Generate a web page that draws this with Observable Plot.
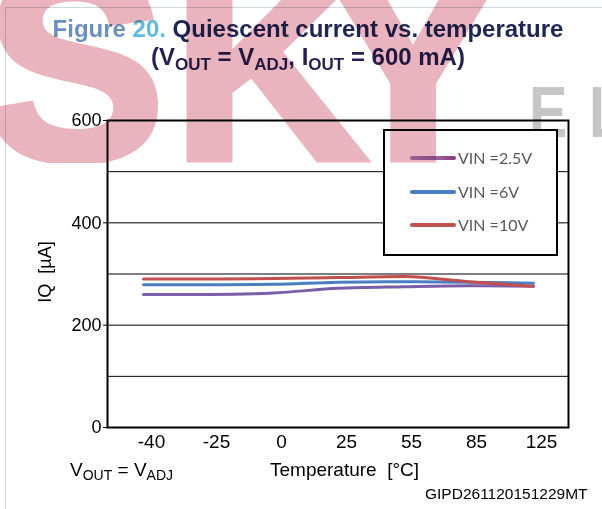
<!DOCTYPE html>
<html><head><meta charset="utf-8">
<script src="https://cdn.jsdelivr.net/npm/d3@7"></script>
<script src="https://cdn.jsdelivr.net/npm/@observablehq/plot@0.6"></script>
<style>
body{margin:0;background:#fff;}
#wrap{position:relative;width:602px;height:509px;overflow:hidden;font-family:"Liberation Sans",Arial,sans-serif;}
#chart{position:absolute;left:0;top:0;z-index:2;}
.abs{position:absolute;white-space:nowrap;line-height:1;}
.ttl{left:0;width:616px;text-align:center;font-weight:bold;font-size:24px;z-index:3;}
.ttl sub{font-size:17px;vertical-align:-5px;line-height:0;}
#wm{position:absolute;left:0;top:0;width:602px;height:163px;overflow:hidden;z-index:6;mix-blend-mode:multiply;pointer-events:none;}
#wm span{position:absolute;top:-69px;font-size:270px;font-weight:bold;color:#e9b4be;line-height:1;-webkit-text-stroke:7px #e9b4be;}
.el{top:76px;font-size:72px;font-weight:bold;color:#c6c6c6;z-index:1;transform:scaleX(0.8);transform-origin:left top;}
#legend{position:absolute;left:383px;top:129px;width:175px;height:127px;box-sizing:border-box;border:2px solid #000;background:#fff;z-index:4;}
.sw{position:absolute;left:25px;width:46px;height:4px;border-radius:2px;}
.lt{position:absolute;left:73px;font-family:Lato,"Open Sans",sans-serif;font-size:16px;color:#595959;line-height:1;}
.lab{font-size:19px;color:#000;z-index:3;}
.lab sub{font-size:14px;vertical-align:-4px;line-height:0;}
#border{position:absolute;left:5px;top:7px;width:620px;height:600px;border-left:1px solid #cfd6de;border-top:1px solid #cfd6de;z-index:0;}
</style></head>
<body>
<div id="wrap">
  <div id="border"></div>
  <div class="abs el" style="left:529px;">E</div>
  <div class="abs el" style="left:589px;">L</div>
  <div id="chart"></div>
  <div class="abs ttl" style="top:16.5px;color:#1e2557;"><span style="color:#6a8fc2">Figure </span><span style="color:#5fbbe6">20.</span> Quiescent current vs. temperature</div>
  <div class="abs ttl" style="top:44.5px;color:#241f54;">(V<sub>OUT</sub> = V<sub>ADJ</sub>, I<sub>OUT</sub> = 600 mA)</div>
  <div id="legend"></div>
  <div class="abs lab" style="left:45px;top:272px;font-size:18px;transform:translate(-50%,-50%) rotate(-90deg);">IQ &nbsp;[µA]</div>
  <div class="abs lab" style="left:270px;top:460px;">Temperature &nbsp;[°C]</div>
  <div class="abs lab" style="left:70px;top:460px;">V<sub>OUT</sub> = V<sub>ADJ</sub></div>
  <div class="abs lab" style="left:425px;top:486px;font-size:15.5px;">GIPD261120151229MT</div>
  <div id="wm"><span style="left:-15px">S</span><span style="left:172px">K</span><span style="left:323px">Y</span></div>
</div>
<script>
const temps = ["-40", "-25", "0", "25", "55", "85", "125"];
const seriesNames = ["VIN =2.5V", "VIN =6V", "VIN =10V"];
const vin25 = [260, 260, 263, 272, 275, 277, 276];
const vin6  = [279, 279, 280, 284, 285, 284, 282];
const vin10 = [290, 290, 291, 293, 295, 285, 276];
const yTicks = [0, 200, 400, 600];
const gridVals = [100, 200, 300, 400, 500];
const colors = ["#7b5ea8", "#4a7ec2", "#c1504e"];

const series = [vin25, vin6, vin10];
const table = series.flatMap((vals, k) => temps.map((t, i) => ({t, v: vals[i], s: seriesNames[k]})));

const chart = Plot.plot({
  width: 602, height: 509,
  marginLeft: 107, marginRight: 34, marginTop: 120, marginBottom: 82,
  style: {background: "transparent", fontFamily: "Liberation Sans, Arial, sans-serif", fontSize: "18px", color: "#000"},
  x: {type: "point", domain: temps, padding: 0.5, label: null},
  y: {domain: [0, 600], label: null},
  color: {domain: seriesNames, range: colors},
  marks: [
    Plot.ruleY(gridVals, {stroke: "#000", strokeWidth: 1}),
    Plot.line(table, {x: "t", y: "v", z: "s", stroke: "s", strokeWidth: 3, curve: "monotone-x"}),
    Plot.frame({stroke: "#000", strokeWidth: 2}),
    Plot.axisY({ticks: yTicks, tickSize: 4, tickPadding: 2, fontSize: 18, label: null}),
    Plot.axisX({tickSize: 0, tickPadding: 7, fontSize: 19, dx: 8, label: null})
  ]
});
document.getElementById("chart").appendChild(chart);

const legend = document.getElementById("legend");
const legendColors = ["linear-gradient(to right,#a78fca,#9a6fb1 45%,#8a3c7b)", colors[1], colors[2]];
seriesNames.forEach((name, k) => {
  const top = 25 + k * 33.5;
  const sw = document.createElement("div");
  sw.className = "sw";
  sw.style.top = top + "px";
  sw.style.background = legendColors[k];
  legend.appendChild(sw);
  const lt = document.createElement("div");
  lt.className = "lt";
  lt.style.top = (top - 6) + "px";
  lt.textContent = name;
  legend.appendChild(lt);
});
</script>
</body></html>
